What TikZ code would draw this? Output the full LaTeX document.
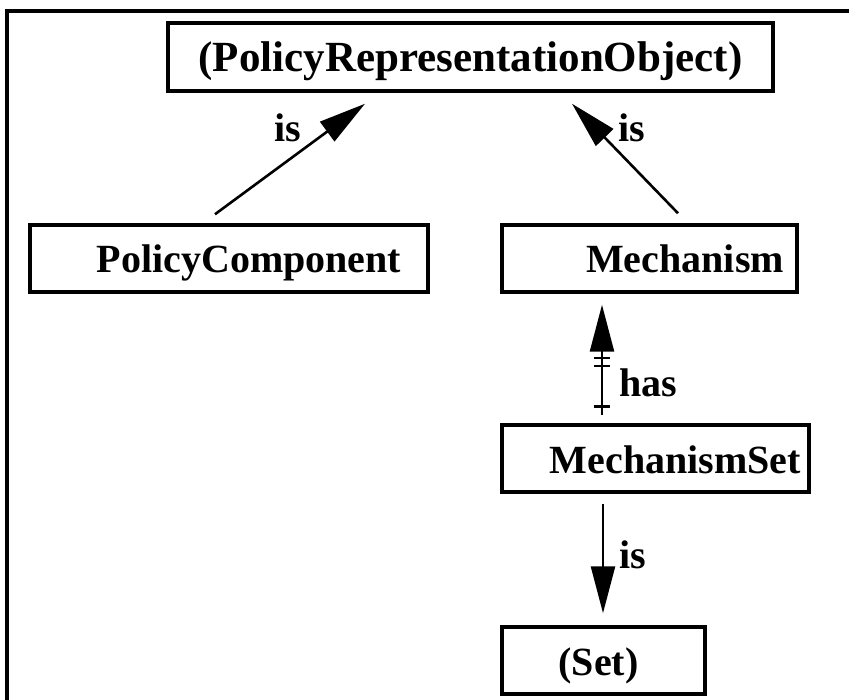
\documentclass[tikz,border=0pt]{standalone}
\usepackage{fontspec}
\setmainfont{Liberation Serif}
\usetikzlibrary{arrows.meta,calc}
\begin{document}
\begin{tikzpicture}[x=1pt,y=-1pt,
  classbox/.style={draw, line width=3.5pt, rectangle, inner sep=0pt,
    font=\fontsize{40}{40}\selectfont\bfseries, text height=29pt, text depth=0pt},
  rel/.style={line width=2.6pt, -{Triangle[length=47pt,width=24pt]}},
  plain/.style={line width=2.6pt},
  lbl/.style={font=\fontsize{40}{40}\selectfont\bfseries, anchor=base, inner sep=0pt}]
  \useasboundingbox (0,0) rectangle (849,700);
  % open frame
  \draw[line width=3.5pt] (7,700) -- (7,11) -- (849,11);

  % classes
  \node[classbox, minimum width=605pt, minimum height=68pt, font=\fontsize{43}{43}\selectfont\bfseries] (pro) at (470.5,57) {(PolicyRepresentationObject)};
  \node[classbox, minimum width=398pt, minimum height=67pt] (pc) at (229,258.5) {\hspace*{40pt}PolicyComponent};
  \node[classbox, minimum width=295pt, minimum height=67pt] (mech) at (649.5,258.5) {\hspace*{71pt}Mechanism};
  \node[classbox, minimum width=307pt, minimum height=67pt] (mset) at (655.5,458.5) {\hspace*{40pt}MechanismSet};
  \node[classbox, minimum width=203pt, minimum height=67pt] (set) at (603.5,660.5) {(Set)\hspace*{10pt}};

  % generalisations
  \draw[rel] ([xshift=-14pt,yshift=9pt]pc.north) -- ([xshift=-105.5pt,yshift=-11pt]pro.south);
  \draw[rel] ([xshift=28.5pt,yshift=10pt]mech.north) -- ([xshift=101.5pt,yshift=-11pt]pro.south);
  \draw[rel] ([xshift=-52.5pt,yshift=-10pt]mset.south) -- ([xshift=-0.5pt,yshift=12pt]set.north);

  % aggregation with multiplicity ticks
  \coordinate (hb) at ([xshift=-53.5pt,yshift=8pt]mset.north);
  \coordinate (ht) at ([xshift=-47.5pt,yshift=-11pt]mech.south);
  \draw[rel] (hb) -- (ht);
  \path (hb) -- (ht) coordinate[pos=0.079] (t1) coordinate[pos=0.447] (t2) coordinate[pos=0.518] (t3);
  \foreach \t in {t1,t2,t3}
    \draw[plain] ([xshift=-8pt]\t) -- ([xshift=8pt]\t);

  % labels
  \node[lbl] (l1) at (288,142) {is};
  \node[lbl] (l2) at (632,142) {is};
  \node[lbl] (l3) at (648,397) {has};
  \node[lbl] (l4) at (633,568) {is};
\end{tikzpicture}
\end{document}
